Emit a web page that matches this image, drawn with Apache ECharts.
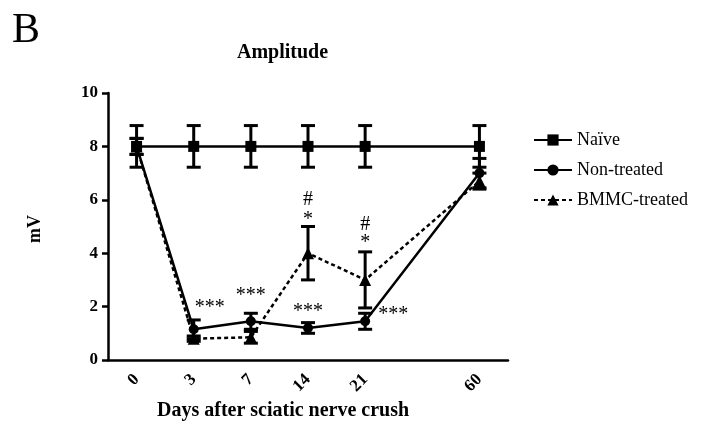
<!DOCTYPE html>
<html><head><meta charset="utf-8">
<script src="https://cdn.jsdelivr.net/npm/echarts@6/dist/echarts.min.js"></script>
<style>html,body{margin:0;padding:0;background:#fff}#c{width:723px;height:435px}</style>
</head><body><div id="c"></div>
<script>
const categories = ['0','3','7','14','21','','60'];
const naive = [8.0, 8.0, 8.0, 8.0, 8.0, null, 8.0];
const naiveErr = [0.78, 0.78, 0.78, 0.78, 0.78, null, 0.78];
const nonTreated = [8.0, 1.15, 1.45, 1.2, 1.45, null, 7.0];
const nonTreatedErr = [0.3, 0.35, 0.3, 0.2, 0.3, null, 0.55];
const bmmc = [8.0, 0.8, 0.85, 4.0, 3.0, null, 6.7];
const bmmcErr = [0.3, 0.1, 0.22, 1.0, 1.05, null, 0.3];
const yTicks = [0, 2, 4, 6, 8, 10];
const annotText = ['***','***','***','***','#','*','#','*'];
const annotX = [1, 2, 3, 4, 3, 3, 4, 4];
const annotY = [1.95, 2.4, 1.8, 1.7, 6.0, 5.25, 5.07, 4.4];
const annotShift = [16, 0, 0, 28, 0, 0, 0, 0];

const serif = '"Liberation Serif","Times New Roman",serif';

function errData(vals, errs){
  const out = [];
  vals.forEach((v,i)=>{ if(v!=null) out.push([i, v-errs[i], v+errs[i]]); });
  return out;
}
function renderErr(params, api){
  const lo = api.coord([api.value(0), api.value(1)]);
  const hi = api.coord([api.value(0), api.value(2)]);
  const w = 7;
  const st = {stroke:'#000', lineWidth:3};
  return {type:'group', children:[
    {type:'line', shape:{x1:hi[0], y1:hi[1], x2:lo[0], y2:lo[1]}, style:st},
    {type:'line', shape:{x1:hi[0]-w, y1:hi[1], x2:hi[0]+w, y2:hi[1]}, style:st},
    {type:'line', shape:{x1:lo[0]-w, y1:lo[1], x2:lo[0]+w, y2:lo[1]}, style:st}
  ]};
}
function errSeries(vals, errs){
  return {type:'custom', renderItem:renderErr, data:errData(vals, errs), z:3, silent:true, encode:{x:0, y:[1,2]}};
}

const chart = echarts.init(document.getElementById('c'));
chart.setOption({
  animation:false,
  grid:{left:108, right:215, top:93, bottom:75},
  xAxis:{type:'category', data:categories, boundaryGap:true,
    axisLine:{lineStyle:{color:'#000', width:2.5}},
    axisTick:{alignWithLabel:true, length:7, lineStyle:{color:'#000', width:2.5},
      interval:(i,v)=>v!==''},
    axisLabel:{rotate:45, interval:0, margin:17, color:'#000', fontFamily:serif, fontWeight:'bold', fontSize:17}},
  yAxis:{type:'value', min:yTicks[0], max:yTicks[yTicks.length-1], interval:2,
    splitLine:{show:false},
    axisLine:{show:true, lineStyle:{color:'#000', width:2.5}},
    axisTick:{show:true, length:6, lineStyle:{color:'#000', width:2.5}},
    axisLabel:{color:'#000', fontFamily:serif, fontWeight:'bold', fontSize:17, margin:10}},
  legend:{orient:'vertical', left:528, top:126, itemGap:12, itemWidth:38, itemHeight:14,
    textStyle:{fontFamily:serif, fontSize:18, color:'#000'},
    data:['Naïve','Non-treated','BMMC-treated']},
  graphic:[
    {type:'text', left:12, top:10, style:{text:'B', font:'42px '+serif, fill:'#000'}},
    {type:'text', left:237, top:43, style:{text:'Amplitude', font:'bold 20px '+serif, fill:'#000'}},
    {type:'text', left:157, top:401, style:{text:'Days after sciatic nerve crush', font:'bold 20px '+serif, fill:'#000'}},
    {type:'text', x:26, y:243, rotation:Math.PI/2, style:{text:'mV', font:'bold 18px '+serif, fill:'#000'}}
  ],
  series:[
    errSeries(naive, naiveErr),
    errSeries(nonTreated, nonTreatedErr),
    errSeries(bmmc, bmmcErr),
    {name:'Naïve', type:'line', data:naive, connectNulls:true, symbol:'rect', symbolSize:11,
      itemStyle:{color:'#000'}, lineStyle:{color:'#000', width:2.5}, z:4},
    {name:'Non-treated', type:'line', data:nonTreated, connectNulls:true, symbol:'circle', symbolSize:10,
      itemStyle:{color:'#000'}, lineStyle:{color:'#000', width:2.5}, z:4},
    {name:'BMMC-treated', type:'line', data:bmmc, connectNulls:true, symbol:'triangle', symbolSize:12,
      itemStyle:{color:'#000'}, lineStyle:{color:'#000', width:2.5, type:[4,3]}, z:4},
    {type:'scatter', symbolSize:0, silent:true, z:5, itemStyle:{opacity:1, color:'#000'},
      label:{show:true, position:'inside', color:'#000', opacity:1, fontFamily:serif, fontSize:20},
      data:annotText.map((t,i)=>({value:[annotX[i], annotY[i]],
        label:{formatter:t, offset:[annotShift[i],0], color:'#000'}}))}
  ]
});
</script></body></html>
